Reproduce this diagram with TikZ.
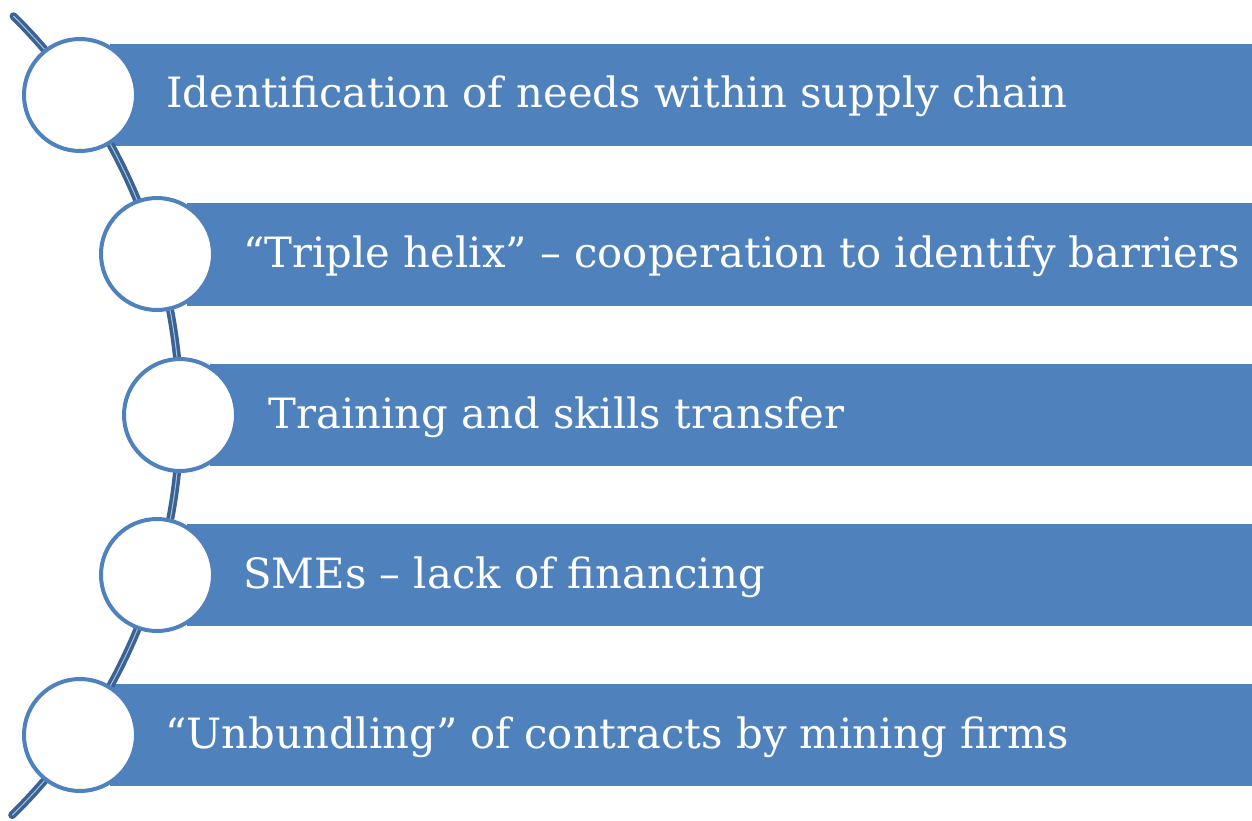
\documentclass[tikz,border=0pt]{standalone}
\usepackage{fontspec}
\setmainfont{DejaVu Serif}
\usetikzlibrary{calc}
\definecolor{barblue}{HTML}{4F81BD}
\definecolor{arcblue}{HTML}{3A6394}
\definecolor{arcpale}{HTML}{A9C1DE}

\tikzset{
    dot/.style={circle, draw=barblue, line width=0.08cm, fill=white, minimum size=2.24cm, inner sep=0pt},
    label text/.style={anchor=base west, text=white, inner sep=0pt, font=\fontsize{23.75}{28}\selectfont}
}

\begin{document}
\begin{tikzpicture}
        \useasboundingbox (0,0) rectangle (25.04,-16.4);
        \coordinate (o) at (-7.62,-8.3);
        \coordinate (c1) at (1.6,-1.9);
        \coordinate (c2) at (3.14,-5.08);
        \coordinate (c3) at (3.6,-8.3);
        \coordinate (c4) at (3.14,-11.5);
        \coordinate (c5) at (1.6,-14.7);
        % bars
        \fill [barblue] ($ (c1) + (0.6,1.02) $) rectangle (25.04,-2.92);
        \fill [barblue] ($ (c2) + (0.6,1.02) $) rectangle (25.04,-6.12);
        \fill [barblue] ($ (c3) + (0.6,1.02) $) rectangle (25.04,-9.32);
        \fill [barblue] ($ (c4) + (0.6,1.02) $) rectangle (25.04,-12.52);
        \fill [barblue] ($ (c5) + (0.6,1.02) $) rectangle (25.04,-15.72);
        % spine
        \draw [arcblue, line width=0.07cm, double=arcpale, double distance=0.02cm, line cap=round]
            ($ (o) + (45.3:11.22cm) $) arc [start angle=45.3, end angle=-45.5, radius=11.22cm];
        \draw (c1) node [dot, name=D1] {};
        \draw (c2) node [dot, name=D2] {};
        \draw (c3) node [dot, name=D3] {};
        \draw (c4) node [dot, name=D4] {};
        \draw (c5) node [dot, name=D5] {};
        \draw ($ (c1) + (1.72,-0.26) $) node [label text, name=T1] {Identification of needs within supply chain};
        \draw ($ (c2) + (1.72,-0.26) $) node [label text, name=T2] {“Triple helix” – cooperation to identify barriers};
        \draw ($ (c3) + (1.76,-0.26) $) node [label text, name=T3] {Training and skills transfer};
        \draw ($ (c4) + (1.72,-0.26) $) node [label text, name=T4] {SMEs – lack of financing};
        \draw ($ (c5) + (1.7,-0.26) $) node [label text, name=T5] {“Unbundling” of contracts by mining firms};
\end{tikzpicture}
\end{document}
